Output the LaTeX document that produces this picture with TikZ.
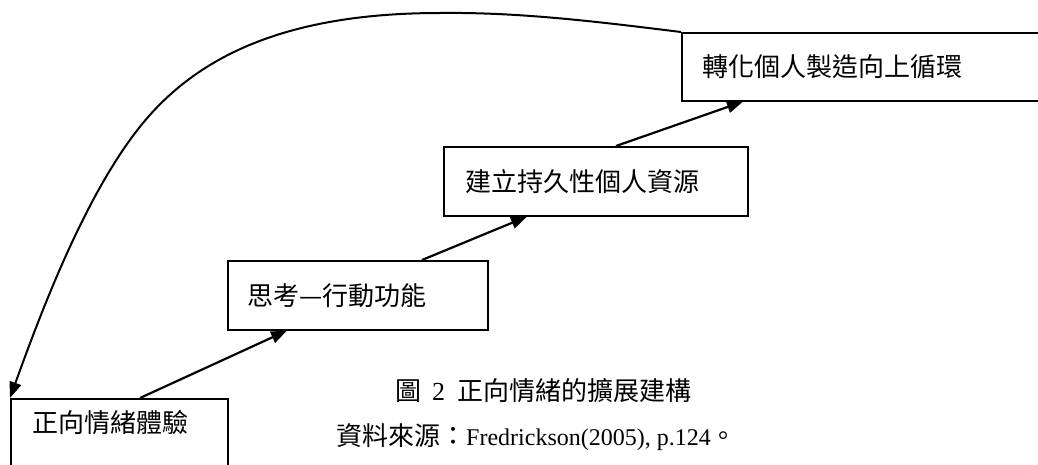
\documentclass[tikz,border=0pt]{standalone}
\usepackage{fontspec}
\newfontfamily\cjk{Noto Sans CJK TC}
\newfontfamily\lat{Liberation Serif}
\usetikzlibrary{arrows.meta}
\begin{document}
\begin{tikzpicture}[x=1pt,y=-1pt,
  box/.style={draw, line width=1.6pt, rectangle, inner sep=0pt, anchor=north west},
  lbl/.style={font=\cjk\fontsize{26}{30}\selectfont, anchor=west, inner sep=0pt},
  captxt/.style={font=\fontsize{24}{28}\selectfont, anchor=west, inner sep=0pt},
  arr/.style={line width=2.2pt, -{Triangle[length=16pt,width=12pt]}}]
\useasboundingbox (0,0) rectangle (1038,464);
\clip (0,0) rectangle (1038,464);
% boxes
\node[box, minimum width=217pt, minimum height=100pt] (b1) at (10,398) {};
\node[box, minimum width=260pt, minimum height=69pt] (b2) at (227,260) {};
\node[box, minimum width=304pt, minimum height=69pt] (b3) at (443,146) {};
\node[box, minimum width=380pt, minimum height=68pt] (b4) at (681,32) {};
% labels
\node[lbl] (t1) at ([xshift=22pt,yshift=-25pt]b1.north west) {正向情緒體驗};
\node[lbl] (t2) at ([xshift=20pt]b2.west) {思考—行動功能};
\node[lbl] (t3) at ([xshift=22pt]b3.west) {建立持久性個人資源};
\node[lbl] (t4) at ([xshift=21pt]b4.west) {轉化個人製造向上循環};
% arrows
\draw[arr] ([xshift=130pt]b1.north west) -- ([xshift=60pt]b2.south west);
\draw[arr] ([xshift=195pt]b2.north west) -- ([xshift=84pt]b3.south west);
\draw[arr] ([xshift=173pt]b3.north west) -- ([xshift=62pt]b4.south west);
\draw[arr, line width=2pt] (b4.north west) .. controls (600,22) and (520,12) .. (440,13)
  .. controls (290,13) and (200,54) .. (143,123)
  .. controls (86,192) and (41,312) .. (b1.north west);
% caption
\node[captxt] (c1) at (395,391) {{\cjk\fontsize{26}{30}\selectfont 圖}\hspace{11pt}{\lat\fontsize{26}{30}\selectfont 2}\hspace{12pt}{\cjk\fontsize{26}{30}\selectfont 正向情緒的擴展建構}};
\node[captxt] (c2) at (336,437) {{\cjk\fontsize{26}{30}\selectfont 資料來源：}{\lat Fredrickson(2005), p.124}{\cjk\fontsize{26}{30}\selectfont 。}};
\end{tikzpicture}
\end{document}
